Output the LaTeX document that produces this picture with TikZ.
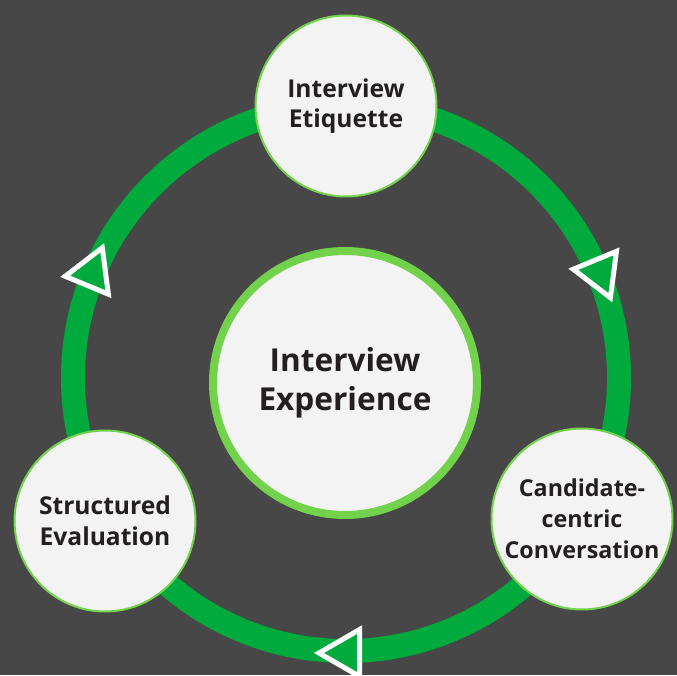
\documentclass[tikz,border=0pt]{standalone}
\usepackage{fontspec}
\setmainfont{Open Sans}
\usepackage{tikz}
\usetikzlibrary{calc, positioning}

\definecolor{bgdark}{HTML}{474747}
\definecolor{loopgreen}{HTML}{00AA3C}
\definecolor{rimgreen}{HTML}{72D24B}
\definecolor{discgray}{HTML}{F3F3F3}
\definecolor{ink}{HTML}{231F20}

\tikzset{
    stage/.style={circle, draw=rimgreen, line width=2pt, fill=discgray, minimum size=181pt, inner sep=0pt,
        align=center, text=ink, font=\fontsize{24.6}{30.5}\selectfont\bfseries},
    hub/.style={circle, draw=rimgreen, line width=8pt, fill=discgray, minimum size=264pt, inner sep=0pt,
        align=center, text=ink, font=\fontsize{31.6}{38.5}\selectfont\bfseries},
    flowtri/.style={draw=white, fill=loopgreen, line width=5pt, line join=miter}
}

\begin{document}
\begin{tikzpicture}[x=1pt, y=1pt]
            \fill[bgdark] (0,0) rectangle (677,675);
            \useasboundingbox (0,0) rectangle (677,675);
            \coordinate (ring) at (346,297);
            % big loop and the clockwise markers on it
            \draw[loopgreen, line width=24pt] (ring) circle[radius=273];
            \foreach \a in {22.5, 157.5, 270}
                \draw[flowtri] ($(ring)+(\a:275)+(\a-90:27)$) -- ($(ring)+(\a:275)+(\a+30:27)$)
                    -- ($(ring)+(\a:275)+(\a+150:27)$) -- cycle;
            \node[hub] (core) at (345,292) {Interview\\Experience};
            \node[stage] (etiquette) at (346,569) {Interview\\Etiquette};
            % three lines here, set a bit smaller to fit the disc
            \node[stage, font=\fontsize{23.3}{31}\selectfont\bfseries] (conversation) at (582,156) {Candidate-\\centric\\Conversation};
            \node[stage] (evaluation) at (105,154) {Structured\\Evaluation};
        \end{tikzpicture}
\end{document}
